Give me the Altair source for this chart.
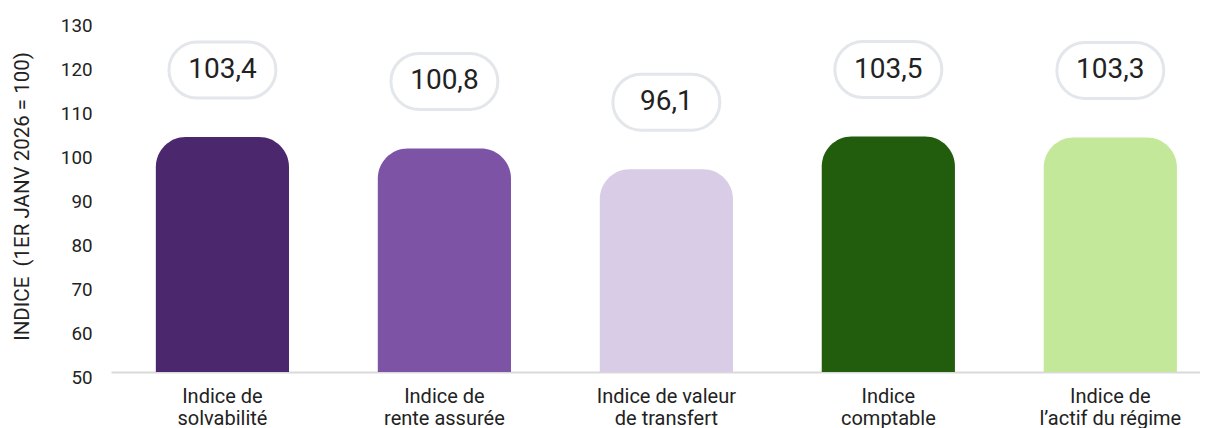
import altair as alt
import pandas as pd

categories = ["Indice de|solvabilité", "Indice de|rente assurée", "Indice de valeur|de transfert",
              "Indice|comptable", "Indice de|l’actif du régime"]
values = [103.4, 100.8, 96.1, 103.5, 103.3]
value_labels = ["103,4", "100,8", "96,1", "103,5", "103,3"]
colors = ["#4B286D", "#7C53A5", "#D8CCE6", "#215D0C", "#C3E899"]

df = pd.DataFrame({"cat": categories, "val": values, "lab": value_labels})

FONT = "Roboto"
PILL = "M-0.455,-0.5 L0.455,-0.5 A0.5,0.5 0 0 1 0.455,0.5 L-0.455,0.5 A0.5,0.5 0 0 1 -0.455,-0.5 Z"

x = alt.X("cat:N", sort=categories, title=None,
          scale=alt.Scale(paddingInner=0.4, paddingOuter=0.153, align=0.66),
          axis=alt.Axis(labelAngle=0, labelExpr="split(datum.label, '|')", labelFontSize=20,
                        labelFont=FONT, labelColor="#222222", labelPadding=14, labelLineHeight=22,
                        ticks=False, domainColor="#D9D9D9", domainWidth=2))
y = alt.Y("val:Q", title="INDICE\u00a0 (1ER JANV 2026 = 100)",
          scale=alt.Scale(domain=[50, 130], zero=False, nice=False),
          axis=alt.Axis(values=list(range(50, 131, 10)), grid=False, ticks=False, domain=False,
                        labelFont=FONT, labelFontSize=18.8, labelColor="#222222", labelPadding=19,
                        labelOffset=5, titleFont=FONT, titleFontSize=20.5, titleFontWeight="normal",
                        titleColor="#222222", titlePadding=28))

bars = alt.Chart(df).mark_bar(cornerRadiusTopLeft=30, cornerRadiusTopRight=30).encode(
    x=x, y=y, y2=alt.datum(50),
    color=alt.Color("cat:N", sort=categories, scale=alt.Scale(domain=categories, range=colors), legend=None),
)

pills = alt.Chart(df).mark_point(shape=PILL, size=12544, filled=True, fill="white", stroke="#E3E6EA",
                                 strokeWidth=3, opacity=1, yOffset=-67).encode(
    x=alt.X("cat:N", sort=categories), y=alt.Y("val:Q"))

texts = alt.Chart(df).mark_text(font=FONT, fontSize=28, color="#222222", baseline="middle",
                                align="center", dy=-67).encode(
    x=alt.X("cat:N", sort=categories), y=alt.Y("val:Q"), text="lab:N")

chart = alt.layer(bars, pills, texts).properties(
    width=1089, height=352, background="white",
    padding={"left": 4, "top": 8, "right": 0, "bottom": 0}
).configure_view(strokeWidth=0, stroke=None)

chart.save("out.html", embed_options={"renderer": "svg", "actions": False})
